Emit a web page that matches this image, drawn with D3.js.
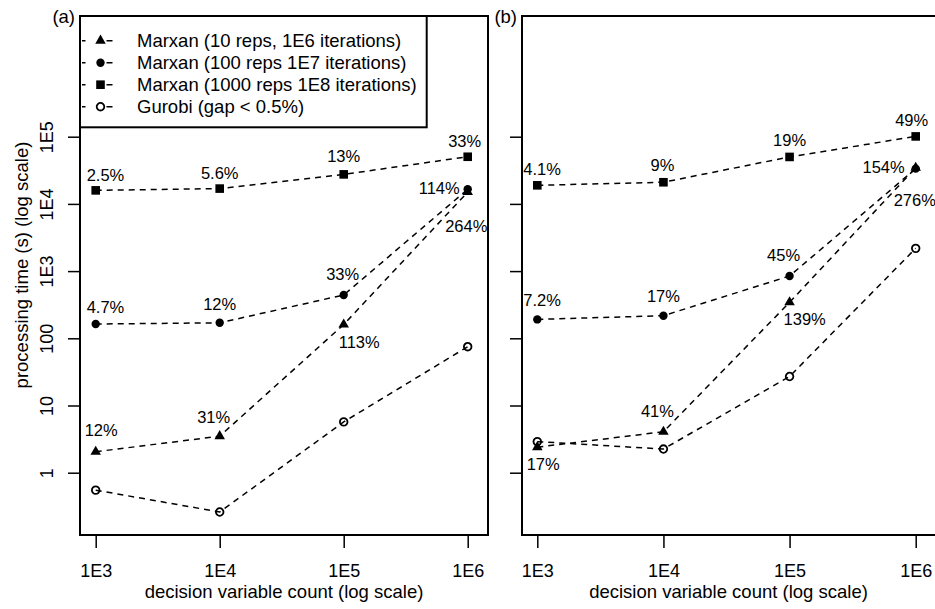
<!doctype html>
<html>
<head>
  <script src="https://cdnjs.cloudflare.com/ajax/libs/d3/7.8.5/d3.min.js"></script>
  <style>
    body { margin: 0; background: #fff; }
    svg { display: block; font-family: "Liberation Sans", Arial, sans-serif; }
    .tick line { stroke: #000; stroke-width: 1.5px; }
    .tick text { font-size: 18px; fill: #000; }
    .domain { display: none; }
  </style>
</head>
<body>
  <svg width="935" height="609"></svg>
  <script>
    // decision variable counts (x)
    var varCounts = [1e3, 1e4, 1e5, 1e6];
    var xTicks = [1e3, 1e4, 1e5, 1e6];
    var yTicks = [1, 10, 100, 1e3, 1e4, 1e5];
    var yTickLabels = ["1", "10", "100", "1E3", "1E4", "1E5"];

    var seriesNames = ["Marxan (10 reps, 1E6 iterations)", "Marxan (100 reps 1E7 iterations)",
      "Marxan (1000 reps 1E8 iterations)", "Gurobi (gap < 0.5%)"];

    // panel (a) processing time (s)
    var a10 = [2.05, 3.5, 160, 15000];
    var a100 = [163, 170, 441, 16500];
    var a1000 = [15900, 16900, 27500, 50300];
    var aGurobi = [0.55, 0.26, 5.7, 75];
    var aLab10 = ["12%", "31%", "113%", "264%"];
    var aLab100 = ["4.7%", "12%", "33%", "114%"];
    var aLab1000 = ["2.5%", "5.6%", "13%", "33%"];

    // panel (b)
    var b10 = [2.4, 4.07, 343, 34500];
    var b100 = [191, 217, 845, 33500];
    var b1000 = [18900, 21000, 50000, 101000];
    var bGurobi = [2.9, 2.25, 27, 2180];
    var bLab10 = ["17%", "41%", "139%", "276%"];
    var bLab100 = ["7.2%", "17%", "45%", "154%"];
    var bLab1000 = ["4.1%", "9%", "19%", "49%"];

    // label nudges: [anchor, dx, dy] from the point
    var aNudge10 = [["start",-11,-16],["middle",-6,-13],["start",-5,23],["start",-22.5,39.5]];
    var aNudge100 = [["start",-9,-11.5],["middle",0,-12.5],["middle",-1,-14.5],["end",-8,4.7]];
    var aNudge1000 = [["start",-9,-9.5],["middle",0,-10],["middle",0,-12],["middle",-3,-10]];
    var bNudge10 = [["start",-10.6,23],["middle",-6,-15],["start",-6,23],["start",-22,38.7]];
    var bNudge100 = [["start",-14,-13],["middle",0,-14],["middle",-6,-15.5],["end",-11,4.4]];
    var bNudge1000 = [["start",-14,-10],["middle",-1,-11],["middle",0,-10.5],["middle",-4,-10]];

    var shapes = ["triangle", "circle", "square", "open"];

    var svg = d3.select("svg");
    var plotTop = 16, plotBottom = 535;
    var yScale = d3.scaleLog().domain([1, 1e5]).range([472.7, 136.7]);

    var panels = [
      {tag: "(a)", left: 80, right: 488, xr: [95.7, 467.7], ylab: true,
        vals: [a10, a100, a1000, aGurobi], labs: [aLab10, aLab100, aLab1000, null],
        nudges: [aNudge10, aNudge100, aNudge1000, null]},
      {tag: "(b)", left: 522, right: 937, xr: [537.3, 915.7], ylab: false,
        vals: [b10, b100, b1000, bGurobi], labs: [bLab10, bLab100, bLab1000, null],
        nudges: [bNudge10, bNudge100, bNudge1000, null]}
    ];

    function marker(sel, shape) {
      if (shape === "triangle") {
        sel.append("path").attr("d", d3.symbol().type(d3.symbolTriangle).size(48)()).attr("fill", "#000");
      } else if (shape === "circle") {
        sel.append("circle").attr("r", 4.2).attr("fill", "#000");
      } else if (shape === "square") {
        sel.append("rect").attr("x", -4.3).attr("y", -4.3).attr("width", 8.6).attr("height", 8.6).attr("fill", "#000");
      } else {
        sel.append("circle").attr("r", 3.8).attr("fill", "none").attr("stroke", "#000").attr("stroke-width", 1.8);
      }
    }

    panels.forEach(function(p) {
      var x = d3.scaleLog().domain([1e3, 1e6]).range(p.xr);
      var g = svg.append("g");

      var line = d3.line().x((d, i) => x(varCounts[i])).y(d => yScale(d));
      p.vals.forEach(function(vs, s) {
        g.append("path").datum(vs).attr("d", line)
          .attr("fill", "none").attr("stroke", "#000")
          .attr("stroke-width", 1.5).attr("stroke-dasharray", "6,5");
      });
      p.vals.forEach(function(vs, s) {
        vs.forEach(function(v, i) {
          var m = g.append("g").attr("transform", "translate(" + x(varCounts[i]) + "," + yScale(v) + ")");
          marker(m, shapes[s]);
        });
        if (p.labs[s]) {
          g.selectAll(null).data(vs).enter().append("text")
            .attr("x", (d, i) => x(varCounts[i]) + p.nudges[s][i][1])
            .attr("y", (d, i) => yScale(d) + p.nudges[s][i][2])
            .attr("text-anchor", (d, i) => p.nudges[s][i][0])
            .attr("font-size", 16.5)
            .text((d, i) => p.labs[s][i]);
        }
      });

      // box
      g.append("rect").attr("x", p.left).attr("y", plotTop)
        .attr("width", p.right - p.left).attr("height", plotBottom - plotTop)
        .attr("fill", "none").attr("stroke", "#000").attr("stroke-width", 2);

      // x axis
      var xAxis = d3.axisBottom(x).tickValues(xTicks).tickSize(13).tickPadding(16)
        .tickFormat(d => "1E" + Math.round(Math.log10(d)));
      g.append("g").attr("transform", "translate(0," + plotBottom + ")").call(xAxis);

      // y axis
      var yAxis = d3.axisLeft(yScale).tickValues(yTicks).tickSize(12)
        .tickFormat((d, i) => p.ylab ? yTickLabels[i] : "");
      var ya = g.append("g").attr("transform", "translate(" + p.left + ",0)").call(yAxis);
      ya.selectAll(".tick text")
        .attr("transform", "rotate(-90)")
        .attr("x", 0).attr("y", -27).attr("dy", 0)
        .attr("text-anchor", "middle");

      g.append("text").attr("x", (p.left + p.right) / 2 - (p.right > 935 ? 1 : 0)).attr("y", 598)
        .attr("text-anchor", "middle").attr("font-size", 18.5)
        .text("decision variable count (log scale)");

      g.append("text").attr("x", p.left - 5).attr("y", 23)
        .attr("text-anchor", "end").attr("font-size", 18.5).text(p.tag);
    });

    svg.append("text").attr("transform", "translate(28,265) rotate(-90)")
      .attr("text-anchor", "middle").attr("font-size", 18.5)
      .text("processing time (s) (log scale)");

    // legend
    var leg = svg.append("g");
    leg.append("rect").attr("x", 80).attr("y", 16).attr("width", 346.7).attr("height", 111.3)
      .attr("fill", "#fff").attr("stroke", "#000").attr("stroke-width", 2);
    seriesNames.forEach(function(name, i) {
      var cy = 40.7 + i * 22;
      leg.append("line").attr("x1", 82).attr("x2", 113).attr("y1", cy).attr("y2", cy)
        .attr("stroke", "#000").attr("stroke-width", 1.5).attr("stroke-dasharray", "3.5,21,6");
      var m = leg.append("g").attr("transform", "translate(100.5," + cy + ")");
      marker(m, shapes[i]);
      leg.append("text").attr("x", 137).attr("y", cy + 6.5).attr("font-size", 18.5).text(name);
    });
  </script>
</body>
</html>
